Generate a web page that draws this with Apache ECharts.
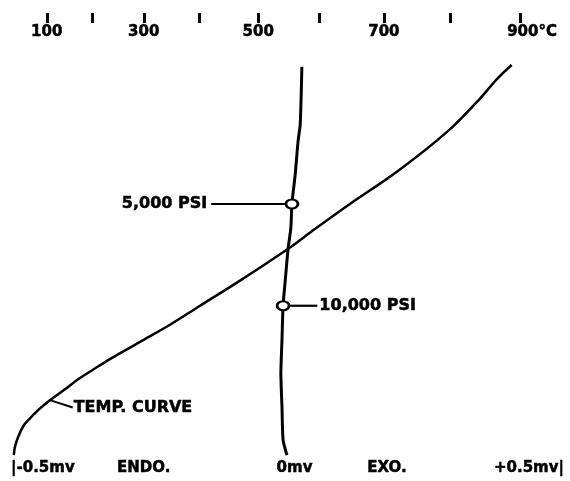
<!DOCTYPE html>
<html><head><meta charset="utf-8">
<script src="https://cdn.jsdelivr.net/npm/echarts@6/dist/echarts.min.js"></script>
<style>html,body{margin:0;padding:0;background:#fff}#c{width:570px;height:481px}</style>
</head><body><div id="c"></div>
<script>
// Recorder temperature scale: Type R thermocouple EMF table (°C -> mV)
const tcTempC = [0, 100, 200, 300, 400, 500, 600, 700, 800, 900, 1000];
const tcEmfMv = [0, 0.647, 1.469, 2.401, 3.408, 4.471, 5.583, 6.743, 7.950, 9.205, 10.506];
const tempTicks = [100, 200, 300, 400, 500, 600, 700, 800, 900];
const tempLabelValues = [100, 300, 500, 700, 900];
const tempLabelTexts = ['100', '300', '500', '700', '900°C'];

// Temperature curve (time in arbitrary units, temperature in °C)
const tempCurveTime = [0.2, 2.1, 4.4, 7.1, 8.7, 11.0, 12.9, 15.4, 17.5, 20.2, 22.5, 26.7, 30.3, 34.7, 40.5, 47.8, 52.4, 58.2, 65.7, 74.9, 82.5, 87.1, 90.3];
const tempCurveC    = [8, 11, 20, 36, 53, 81, 107, 140, 166, 205, 236, 298, 347, 401, 469, 548, 592, 647, 720, 795, 842, 867, 888];

// Differential (DTA) trace, mv
const dtaTime = [0.2, 3.7, 11.3, 19.1, 26.7, 34.7, 42.1, 47.8, 52.6, 58.2, 65.1, 72.6, 76.6, 89.9];
const dtaMv   = [-0.001, -0.008, -0.010, -0.012, -0.010, -0.008, -0.003, 0.001, 0.006, 0.008, 0.014, 0.019, 0.023, 0.026];

// Pressure marks on the DTA trace
const pressureNames = ['5,000 PSI', '10,000 PSI'];
const pressureTime = [58.2, 34.7];
const pressureMv = [0.008, -0.008];

// Bottom (mv) axis labels
const mvLabelValues = [-0.5, -0.26, 0, 0.18, 0.5];
const mvLabelTexts = ['|-0.5mv', 'ENDO.', '{pad|}0mv', 'EXO.', '+0.5mv|'];

function toEmf(c) {
  for (let i = 1; i < tcTempC.length; i++) {
    if (c <= tcTempC[i]) {
      const f = (c - tcTempC[i - 1]) / (tcTempC[i] - tcTempC[i - 1]);
      return tcEmfMv[i - 1] + f * (tcEmfMv[i] - tcEmfMv[i - 1]);
    }
  }
  return tcEmfMv[tcEmfMv.length - 1];
}
function nearestIdx(arr, v) {
  let best = 0, bd = Infinity;
  arr.forEach((a, i) => { const d = Math.abs(a - v); if (d < bd) { bd = d; best = i; } });
  return best;
}

const FONT = 'DejaVu Sans';
const txt = { color: '#000', fontFamily: FONT, fontWeight: 'bold', fontSize: 15,
  textBorderColor: '#000', textBorderWidth: 0.5 };
const annot = { ...txt, fontSize: 16 };
const tempLabelEmf = tempLabelValues.map(toEmf);

const chart = echarts.init(document.getElementById('c'), null, { renderer: 'canvas' });

const tempData = tempCurveC.map((c, i) => [toEmf(c), tempCurveTime[i]]);
const dtaData = dtaMv.map((v, i) => [v, dtaTime[i]]);

// annotation leader geometry (data units)
const leaderLen = [0.146, 0.062];
const gap = 0.006;

const series = [
  { type: 'line', name: 'TEMP. CURVE', xAxisIndex: 1, data: tempData, smooth: 0.35, showSymbol: false,
    lineStyle: { color: '#000', width: 2.5 }, z: 2 },
  { type: 'line', name: 'DTA', xAxisIndex: 0, data: dtaData, smooth: 0.2, showSymbol: false,
    lineStyle: { color: '#000', width: 3 }, z: 2 },
  { type: 'line', xAxisIndex: 0, showSymbol: false, silent: true,
    data: [[pressureMv[0] - gap, pressureTime[0]], [pressureMv[0] - leaderLen[0], pressureTime[0]]],
    lineStyle: { color: '#000', width: 2.2 }, z: 3 },
  { type: 'line', xAxisIndex: 0, showSymbol: false, silent: true,
    data: [[pressureMv[1] + gap, pressureTime[1]], [pressureMv[1] + leaderLen[1], pressureTime[1]]],
    lineStyle: { color: '#000', width: 2.2 }, z: 3 },
  { type: 'line', xAxisIndex: 1, showSymbol: false, silent: true,
    data: [[toEmf(tempCurveC[6]), tempCurveTime[6]], [toEmf(157), 11.2]],
    lineStyle: { color: '#000', width: 2 }, z: 3 },
  { type: 'scatter', xAxisIndex: 0, symbol: 'circle', symbolSize: [12, 9],
    data: pressureMv.map((v, i) => [v, pressureTime[i]]),
    itemStyle: { color: '#fff', borderColor: '#000', borderWidth: 2.4, opacity: 1 }, z: 5 },
  { type: 'scatter', xAxisIndex: 0, symbolSize: 0, silent: true, z: 6,
    itemStyle: { opacity: 1 },
    data: [
      { value: [pressureMv[0] - leaderLen[0], pressureTime[0]],
        label: { show: true, position: 'left', distance: 4, formatter: pressureNames[0], ...annot } },
      { value: [pressureMv[1] + leaderLen[1], pressureTime[1]],
        label: { show: true, position: 'right', distance: 2, formatter: pressureNames[1], ...annot } }
    ] },
  { type: 'scatter', xAxisIndex: 1, symbolSize: 0, silent: true, z: 6,
    itemStyle: { opacity: 1 },
    data: [
      { value: [toEmf(157), 11.2],
        label: { show: true, position: 'right', distance: 1, formatter: 'TEMP. CURVE', ...annot } }
    ] }
];

chart.setOption({
  animation: false,
  backgroundColor: '#fff',
  grid: { left: 11, right: 6, top: 23, bottom: 25 },
  xAxis: [
    { type: 'value', position: 'bottom', min: -0.5, max: 0.5,
      axisLine: { show: false }, axisTick: { show: false }, splitLine: { show: false },
      axisLabel: { show: true, customValues: mvLabelValues, alignMinLabel: 'left', alignMaxLabel: 'right',
        margin: 5, ...txt, rich: { pad: { width: 14 } },
        formatter: v => mvLabelTexts[nearestIdx(mvLabelValues, v)] } },
    { type: 'value', position: 'top', min: 0, max: 10,
      axisLine: { show: false }, splitLine: { show: false },
      axisTick: { show: true, customValues: tempTicks.map(toEmf), length: 10, inside: false,
        lineStyle: { color: '#000', width: 3 } },
      axisLabel: { show: true, customValues: tempLabelEmf, inside: true, margin: 2, ...txt,
        rich: { pad: { width: 24 } },
        formatter: v => { const i = nearestIdx(tempLabelEmf, v); return i === tempLabelTexts.length - 1 ? '{pad|}' + tempLabelTexts[i] : tempLabelTexts[i]; } } }
  ],
  yAxis: { type: 'value', min: 0, max: 100, show: false },
  series
});
</script></body></html>
